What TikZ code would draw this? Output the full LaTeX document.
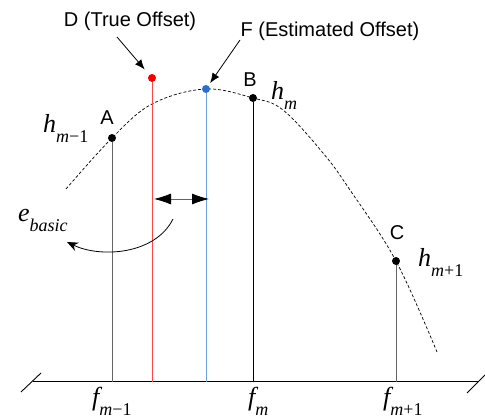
\documentclass[tikz,border=0pt]{standalone}
\usepackage{fontspec}
\setmainfont{Liberation Sans}
\newfontfamily\tms{Liberation Serif}
\usepackage{tikz}
\usetikzlibrary{positioning,arrows.meta,calc}
\definecolor{truedot}{RGB}{240,0,0}
\definecolor{trueline}{RGB}{255,70,70}
\definecolor{estdot}{RGB}{45,110,205}
\definecolor{estline}{RGB}{110,160,225}
\definecolor{stemgray}{RGB}{100,100,100}
\newcommand{\msym}[2]{{\tms\itshape\fontsize{26}{30}\selectfont #1\raisebox{-10pt}{\fontsize{18}{20}\selectfont #2}}}
\tikzset{
  sample/.style={circle,fill=black,inner sep=0pt,minimum size=8pt},
  stem/.style={line width=1pt},
  tag/.style={font=\fontsize{20}{24}\selectfont,inner sep=0pt},
  mlabel/.style={inner sep=0pt,anchor=base west},
  pointer/.style={-{Latex[length=10pt,width=8pt]},line width=0.8pt},
  gaparrow/.style={{Latex[length=17pt,width=11pt,color=black]}-{Latex[length=17pt,width=11pt,color=black]},line width=0.8pt,draw=stemgray},
  bendarrow/.style={-{Stealth[length=11pt,width=9pt]},line width=0.8pt},
  curvepath/.style={dash pattern=on 3pt off 2pt,line width=0.7pt}
}
\begin{document}
\begin{tikzpicture}[x=1pt,y=-1pt]
  \useasboundingbox (0,0) rectangle (485,419);

  % frequency axis with break marks
  \coordinate (axl) at (33,382);
  \coordinate (axr) at (479,382);
  \coordinate (brl1) at (21,392);
  \coordinate (brl2) at (41,373);
  \coordinate (brr1) at (467,393);
  \coordinate (brr2) at (485,375);
  \draw[line width=1pt] (axl) -- (axr);
  \draw[line width=0.9pt] (brl1) -- (brl2);
  \draw[line width=0.9pt] (brr1) -- (brr2);

  % dashed response curve
  \draw[curvepath] plot[smooth,tension=0.6] coordinates
    {(66,189) (112,138) (152,104) (205,89) (253,98) (283,110) (323,153) (350,190) (396,261) (437,352)};

  % samples
  \node[sample] (adot) at (112,138) {};
  \node[sample] (bdot) at (253,98) {};
  \node[sample] (cdot) at (396,261) {};
  \node[sample,fill=truedot] (ddot) at (152,78) {};
  \node[sample,fill=estdot] (fdot) at (206,89) {};

  \draw[stem,draw=stemgray] (adot) -- (adot |- axl);
  \draw[stem] (bdot) -- (bdot |- axl);
  \draw[stem,draw=stemgray] (cdot) -- (cdot |- axl);
  \draw[stem,draw=trueline] (ddot) -- (ddot |- axl);
  \draw[stem,draw=estline] (fdot) -- (fdot |- axl);

  % point names
  \node[tag] (alab) at (107,118) {A};
  \node[tag] (blab) at (250,80) {B};
  \node[tag] (clab) at (397,233) {C};
  \node[tag] (dlab) at (130,21) {D (True Offset)};
  \node[tag] (flab) at (330,31) {F (Estimated Offset)};

  \coordinate (dtail) at (117,37);
  \coordinate (ftail) at (240,40);
  \draw[pointer,shorten >=7pt] (dtail) -- (ddot);
  \draw[pointer,shorten >=3pt] (ftail) -- (fdot);

  % heights and frequencies
  \node[mlabel] (hprev) at (43,133) {\msym{h}{m{\upshape −1}}};
  \node[mlabel] (hcur) at (271,100) {\msym{h}{m}};
  \node[mlabel] (hnext) at (418,267) {\msym{h}{m{\upshape +1}}};
  \node[mlabel] (fprev) at (92,406) {\msym{f}{m{\upshape −1}}};
  \node[mlabel] (fcur) at (248,406) {\msym{f}{m}};
  \node[mlabel] (fnext) at (383,406) {\msym{f}{m{\upshape +1}}};

  % offset error
  \coordinate (gapl) at (154,199);
  \coordinate (gapr) at (209,199);
  \draw[gaparrow] (gapl) -- (gapr);
  \node[mlabel] (ebasic) at (18,222) {\msym{e}{basic}};
  \coordinate (bendfrom) at (173,219);
  \coordinate (bendto) at (67,242);
  \draw[bendarrow] (bendfrom) .. controls (155,255) and (100,258) .. (bendto);
\end{tikzpicture}
\end{document}
